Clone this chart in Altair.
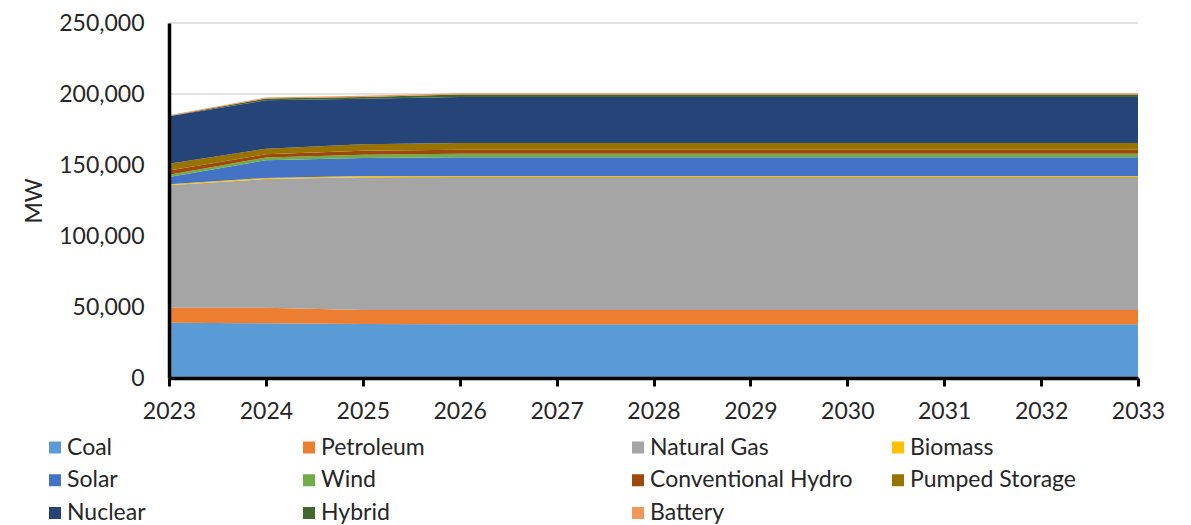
import altair as alt
import pandas as pd

years = [2023, 2024, 2025, 2026, 2027, 2028, 2029, 2030, 2031, 2032, 2033]

series = ["Coal", "Petroleum", "Natural Gas", "Biomass", "Solar", "Wind",
          "Conventional Hydro", "Pumped Storage", "Nuclear", "Hybrid", "Battery"]

colors = ["#5B9BD5", "#ED7D31", "#A5A5A5", "#FFC000", "#4472C4", "#70AD47",
          "#9E480E", "#997300", "#264478", "#43682B", "#F1975A"]

# MW values per year (2023..2033)
coal = [38900, 38600, 38000, 37900, 37900, 37900, 37900, 37900, 37900, 37900, 37900]
petroleum = [10600, 10900, 9900, 9900, 9900, 9900, 9900, 9900, 9900, 9900, 9900]
natural_gas = [86200, 90600, 93500, 93700, 93700, 93700, 93700, 93700, 93700, 93700, 93700]
biomass = [800, 800, 800, 800, 800, 800, 800, 800, 800, 800, 800]
solar = [5000, 12400, 12800, 13100, 13100, 13100, 13100, 13100, 13100, 13100, 13100]
wind = [1700, 1900, 2300, 2600, 2600, 2600, 2600, 2600, 2600, 2600, 2600]
conventional_hydro = [3000, 2300, 2800, 2800, 2800, 2800, 2800, 2800, 2800, 2800, 2800]
pumped_storage = [4700, 4000, 4500, 4700, 4700, 4700, 4700, 4700, 4700, 4700, 4700]
nuclear = [33400, 34100, 32000, 32400, 32400, 32400, 32400, 32400, 32400, 32400, 32400]
hybrid = [200, 1200, 1300, 1700, 1700, 1700, 1700, 1700, 1700, 1700, 1700]
battery = [500, 700, 800, 900, 900, 900, 900, 900, 900, 900, 900]

values = [coal, petroleum, natural_gas, biomass, solar, wind,
          conventional_hydro, pumped_storage, nuclear, hybrid, battery]

y_ticks = [0, 50000, 100000, 150000, 200000, 250000]

rows = []
for i, (name, vals) in enumerate(zip(series, values)):
    for yr, v in zip(years, vals):
        rows.append({"Year": yr, "Type": name, "MW": v, "idx": i})
df = pd.DataFrame(rows)

leg = pd.DataFrame({
    "Type": series,
    "col": [i % 4 for i in range(len(series))],
    "row": [i // 4 for i in range(len(series))],
})
grid_df = pd.DataFrame({"v": y_ticks})

FONT = "Lato"
TXT = "#262626"
W, H = 969, 355

color_scale = alt.Scale(domain=series, range=colors)
y_scale = alt.Scale(domain=[0, 250000], nice=False)

grid = alt.Chart(grid_df).mark_rule(color="#D9D9D9", strokeWidth=1.5).encode(
    y=alt.Y("v:Q", scale=y_scale, axis=None),
    x=alt.value(0), x2=alt.value(W),
)

area = alt.Chart(df).mark_area(opacity=1).encode(
    x=alt.X("Year:Q", scale=alt.Scale(domain=[2023, 2033], nice=False, zero=False),
            axis=alt.Axis(values=years, format="d", title=None, grid=False,
                          domainColor="black", domainWidth=3.5,
                          tickColor="black", tickWidth=3, tickSize=8,
                          labelFontSize=23, labelFont=FONT, labelColor=TXT,
                          labelPadding=14, labelFlush=False, labelOverlap=False,
                          zindex=1)),
    y=alt.Y("sum(MW):Q", stack="zero", scale=y_scale,
            axis=alt.Axis(values=y_ticks, format=",d", title="MW",
                          titleFontSize=23, titleFont=FONT, titleColor=TXT,
                          titleFontWeight="normal", titlePadding=12,
                          labelFontSize=23, labelFont=FONT, labelColor=TXT,
                          labelPadding=25, ticks=False,
                          domainColor="black", domainWidth=3.5,
                          grid=False, zindex=1)),
    color=alt.Color("Type:N", scale=color_scale, legend=None),
    order=alt.Order("idx:Q", sort="ascending"),
)

lx = alt.X("col:Q", scale=alt.Scale(domain=[0, 1, 2, 3], range=[-114, 140, 469, 729],
                                    nice=False, zero=False), axis=None)
ly = alt.Y("row:Q", scale=alt.Scale(domain=[0, 2], range=[424.5, 490],
                                    nice=False, zero=False), axis=None)

leg_sq = alt.Chart(leg).mark_square(size=144, opacity=1).encode(
    x=lx, y=ly, color=alt.Color("Type:N", scale=color_scale, legend=None))

leg_txt = alt.Chart(leg).mark_text(align="left", baseline="middle", dx=12,
                                   fontSize=23, font=FONT, color=TXT).encode(
    x=lx, y=ly, text="Type:N")

chart = alt.layer(grid, area, leg_sq, leg_txt).resolve_scale(
    x="independent", y="independent"
).properties(
    width=W, height=H,
    autosize="none",
    background="white",
    padding={"left": 161, "top": 15, "right": 45, "bottom": 147},
).configure_view(stroke=None, strokeWidth=0)

chart.save("out.html", embed_options={"renderer": "svg", "actions": False})
